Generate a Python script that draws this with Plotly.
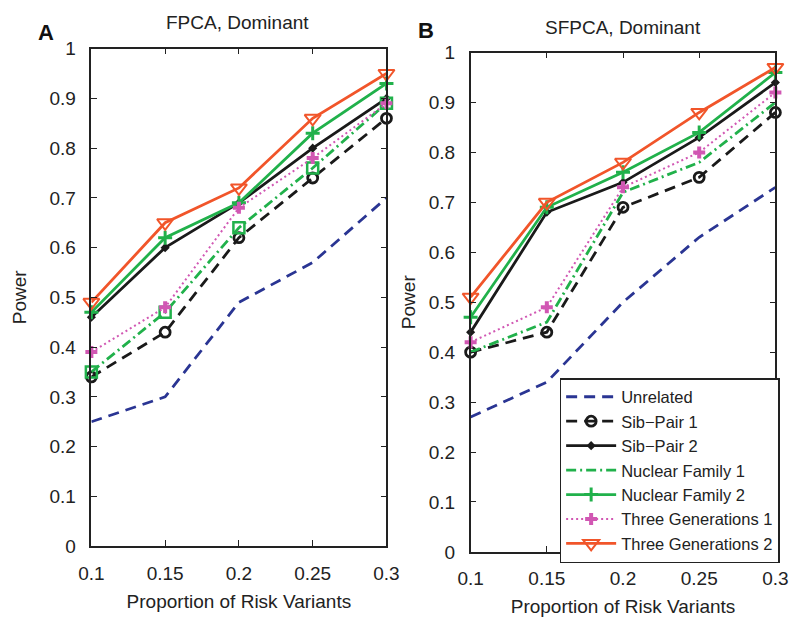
import plotly.graph_objects as go

x_vals = [0.1, 0.15, 0.2, 0.25, 0.3]
x_ticktext = ["0.1", "0.15", "0.2", "0.25", "0.3"]
y_tickvals = [0, 0.1, 0.2, 0.3, 0.4, 0.5, 0.6, 0.7, 0.8, 0.9, 1.0]
y_ticktext = ["0", "0.1", "0.2", "0.3", "0.4", "0.5", "0.6", "0.7", "0.8", "0.9", "1"]

series_names = ["Unrelated", "Sib\u2212Pair 1", "Sib\u2212Pair 2", "Nuclear Family 1",
                "Nuclear Family 2", "Three Generations 1", "Three Generations 2"]

# Panel A: FPCA, Dominant
fpca_unrelated = [0.25, 0.30, 0.49, 0.57, 0.70]
fpca_sib1 = [0.34, 0.43, 0.62, 0.74, 0.86]
fpca_sib2 = [0.46, 0.60, 0.69, 0.80, 0.90]
fpca_nuc1 = [0.35, 0.47, 0.64, 0.76, 0.89]
fpca_nuc2 = [0.47, 0.62, 0.69, 0.83, 0.93]
fpca_three1 = [0.39, 0.48, 0.68, 0.78, 0.89]
fpca_three2 = [0.49, 0.65, 0.72, 0.86, 0.95]

# Panel B: SFPCA, Dominant
sfpca_unrelated = [0.27, 0.34, 0.50, 0.63, 0.73]
sfpca_sib1 = [0.40, 0.44, 0.69, 0.75, 0.88]
sfpca_sib2 = [0.44, 0.68, 0.74, 0.83, 0.94]
sfpca_nuc1 = [0.40, 0.46, 0.72, 0.78, 0.90]
sfpca_nuc2 = [0.47, 0.69, 0.76, 0.84, 0.96]
sfpca_three1 = [0.42, 0.49, 0.73, 0.80, 0.92]
sfpca_three2 = [0.51, 0.70, 0.78, 0.88, 0.97]

BLUE = "#2a3593"
BLACK = "#1a1a1a"
GREEN = "#21b14b"
MAGENTA = "#d157b3"
ORANGE = "#f1552a"

styles = [
    dict(line=dict(color=BLUE, width=2.8, dash="11px,7px"), mode="lines", marker=None),
    dict(line=dict(color=BLACK, width=2.8, dash="11px,7px"), mode="lines+markers",
         marker=dict(symbol="circle-open", size=10, color=BLACK, line=dict(width=2.8, color=BLACK))),
    dict(line=dict(color=BLACK, width=2.8), mode="lines+markers",
         marker=dict(symbol="diamond", size=7, color=BLACK)),
    dict(line=dict(color=GREEN, width=2.8, dash="10px,4px,2px,4px"), mode="lines", marker=None),
    dict(line=dict(color=GREEN, width=2.8), mode="lines+markers",
         marker=dict(symbol="cross-thin-open", size=10, color=GREEN, line=dict(width=3, color=GREEN))),
    dict(line=dict(color=MAGENTA, width=2, dash="2px,3px"), mode="lines+markers",
         marker=dict(symbol="cross", size=10, color=MAGENTA)),
    dict(line=dict(color=ORANGE, width=2.8), mode="lines+markers",
         marker=dict(symbol="triangle-down-open", size=14, color=ORANGE, line=dict(width=2, color=ORANGE))),
]

fpca = [fpca_unrelated, fpca_sib1, fpca_sib2, fpca_nuc1, fpca_nuc2, fpca_three1, fpca_three2]
sfpca = [sfpca_unrelated, sfpca_sib1, sfpca_sib2, sfpca_nuc1, sfpca_nuc2, sfpca_three1, sfpca_three2]

fig = go.Figure()

for i, (name, ys) in enumerate(zip(series_names, fpca)):
    st = dict(styles[i])
    if i == 3:
        st = dict(line=st["line"], mode="lines+markers",
                  marker=dict(symbol="square-open", size=11, color=GREEN, line=dict(width=2.5, color=GREEN)))
    kw = dict(x=x_vals, y=ys, name=name, mode=st["mode"], line=st["line"],
              xaxis="x", yaxis="y", showlegend=False, cliponaxis=False)
    if st["marker"] is not None:
        kw["marker"] = st["marker"]
    fig.add_trace(go.Scatter(**kw))

for i, (name, ys) in enumerate(zip(series_names, sfpca)):
    st = styles[i]
    kw = dict(x=x_vals, y=ys, name=name, mode=st["mode"], line=st["line"],
              xaxis="x2", yaxis="y2", showlegend=True, cliponaxis=False)
    if st["marker"] is not None:
        kw["marker"] = st["marker"]
    fig.add_trace(go.Scatter(**kw))

FONT = "Liberation Sans, Arial, sans-serif"
TXT = "#222"
axis_common = dict(showline=True, linecolor=TXT, linewidth=1.5, mirror="ticks",
                   ticks="inside", ticklen=6, tickcolor=TXT, showgrid=False, zeroline=False,
                   tickfont=dict(family=FONT, size=19, color=TXT))

fig.update_layout(
    width=800, height=617,
    margin=dict(l=0, r=0, t=0, b=0),
    paper_bgcolor="white", plot_bgcolor="white",
    font=dict(family=FONT, color=TXT),
    xaxis=dict(domain=[81/800, 386/800], range=[0.1, 0.3], tickvals=x_vals, ticktext=x_ticktext,
               ticklabelstandoff=9,
               title=dict(text="Proportion of Risk Variants", font=dict(size=19), standoff=12),
               anchor="y", **axis_common),
    yaxis=dict(domain=[1-555/617, 1-40/617], range=[0, 1], tickvals=y_tickvals, ticktext=y_ticktext,
               ticklabelstandoff=10,
               title=dict(text="Power", font=dict(size=19), standoff=18),
               anchor="x", **axis_common),
    xaxis2=dict(domain=[473/800, 788/800], range=[0.1, 0.3], tickvals=x_vals, ticktext=x_ticktext,
                ticklabelstandoff=9,
                title=dict(text="Proportion of Risk Variants", font=dict(size=19), standoff=12),
                anchor="y2", **axis_common),
    yaxis2=dict(domain=[1-561/617, 1-44/617], range=[0, 1], tickvals=y_tickvals, ticktext=y_ticktext,
                ticklabelstandoff=10,
                title=dict(text="Power", font=dict(size=19), standoff=8),
                anchor="x2", **axis_common),
    legend=dict(x=565/800, y=1-381/617, xanchor="left", yanchor="top",
                bgcolor="white", bordercolor=TXT, borderwidth=1.5,
                font=dict(family=FONT, size=16.5, color=TXT),
                itemwidth=50, tracegroupgap=0),
    annotations=[
        dict(text="FPCA, Dominant", x=232/800, y=1-13/617, xref="paper", yref="paper",
             xanchor="center", yanchor="middle",
             showarrow=False, font=dict(size=19, family=FONT, color=TXT)),
        dict(text="SFPCA, Dominant", x=630/800, y=1-18/617, xref="paper", yref="paper",
             xanchor="center", yanchor="middle",
             showarrow=False, font=dict(size=19, family=FONT, color=TXT)),
        dict(text="<b>A</b>", x=34/800, y=1-23/617, xref="paper", yref="paper",
             xanchor="center", yanchor="middle",
             showarrow=False, font=dict(size=22, family=FONT, color="#111")),
        dict(text="<b>B</b>", x=427/800, y=1-21/617, xref="paper", yref="paper",
             xanchor="center", yanchor="middle",
             showarrow=False, font=dict(size=22, family=FONT, color="#111")),
    ],
)

fig.write_html("out.html")
